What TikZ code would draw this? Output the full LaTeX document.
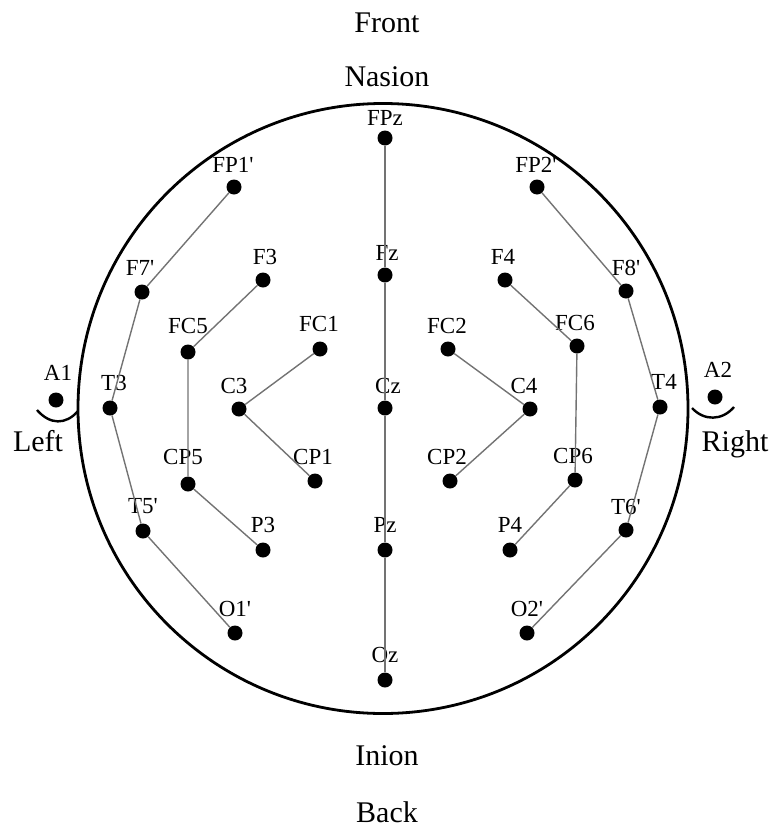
\documentclass[tikz,border=0pt]{standalone}
\usepackage{fontspec}
\setmainfont{Liberation Serif}
\newfontfamily\labfont{Liberation Serif}
\begin{document}
\begin{tikzpicture}[x=1pt,y=-1pt,
  dot/.style={circle,fill=black,inner sep=0pt,minimum size=15pt},
  lab/.style={font=\labfont\fontsize{23}{23}\selectfont,inner sep=0pt},
  big/.style={font=\labfont\fontsize{30}{30}\selectfont,anchor=base,inner sep=0pt},
  wire/.style={draw=black!55,line width=1.4pt},
  headline/.style={draw=black,line width=2.8pt}]
\useasboundingbox (0,0) rectangle (775,830);
\node[headline,circle,inner sep=0pt,minimum size=610pt] (head) at (383,408.5) {};
% texts
\node[big] (front) at (387,32) {Front};
\node[big] (nasion) at (387,86) {Nasion};
\node[big] (inion) at (387,765) {Inion};
\node[big] (back) at (387,822) {Back};
\node[big] (left) at (38,451) {Left};
\node[big] (right) at (735,451) {Right};
% electrodes
\newcommand{\elec}[6]{\node[dot] (#1) at (#2,#3) {}; \node[lab] (#1-l) at (#4,#5) {#6};}
\elec{FPz}{385}{138}{385}{118}{FPz}
\elec{FP1}{234}{187}{233}{165}{FP1'}
\elec{FP2}{537}{187}{536}{165}{FP2'}
\elec{F7}{142}{292}{140}{268}{F7'}
\elec{F8}{626}{291}{626}{268}{F8'}
\elec{F3}{263}{280}{265}{257}{F3}
\elec{Fz}{385}{275}{387}{253}{Fz}
\elec{F4}{505}{280}{503}{257}{F4}
\elec{FC5}{188}{352}{188}{326}{FC5}
\elec{FC1}{320}{349}{319}{324}{FC1}
\elec{FC2}{448}{349}{447}{326}{FC2}
\elec{FC6}{577}{346}{575}{323}{FC6}
\elec{A1}{56}{400}{58}{373}{A1}
\elec{T3}{110}{408}{114}{383}{T3}
\elec{C3}{239}{409}{234}{386}{C3}
\elec{Cz}{385}{408}{388}{386}{Cz}
\elec{C4}{530}{409}{524}{386}{C4}
\elec{T4}{660}{407}{664}{382}{T4}
\elec{A2}{715}{397}{718}{370}{A2}
\elec{CP5}{188}{484}{183}{457}{CP5}
\elec{CP1}{315}{481}{313}{457}{CP1}
\elec{CP2}{450}{481}{447}{457}{CP2}
\elec{CP6}{575}{480}{573}{456}{CP6}
\elec{T5}{143}{531}{143}{506}{T5'}
\elec{T6}{626}{530}{626}{507}{T6'}
\elec{P3}{263}{550}{263}{525}{P3}
\elec{Pz}{385}{550}{385}{525}{Pz}
\elec{P4}{510}{550}{510}{525}{P4}
\elec{O1}{235}{633}{235}{609}{O1'}
\elec{O2}{527}{633}{527}{609}{O2'}
\elec{Oz}{385}{680}{385}{655}{Oz}
% ears
\draw[line width=2.4pt] (37,410) .. controls (50,425) and (66,425) .. (78,411);
\draw[line width=2.4pt] (692,408) .. controls (704,421) and (722,421) .. (734,407);
% wires
\draw[wire] (FPz) -- (Fz) -- (Cz) -- (Pz) -- (Oz);
\draw[wire] (FP1) -- (F7) -- (T3) -- (T5) -- (O1);
\draw[wire] (FP2) -- (F8) -- (T4) -- (T6) -- (O2);
\draw[wire] (F3) -- (FC5) -- (CP5) -- (P3);
\draw[wire] (F4) -- (FC6) -- (CP6) -- (P4);
\draw[wire] (FC1) -- (C3) -- (CP1);
\draw[wire] (FC2) -- (C4) -- (CP2);
\end{tikzpicture}
\end{document}
